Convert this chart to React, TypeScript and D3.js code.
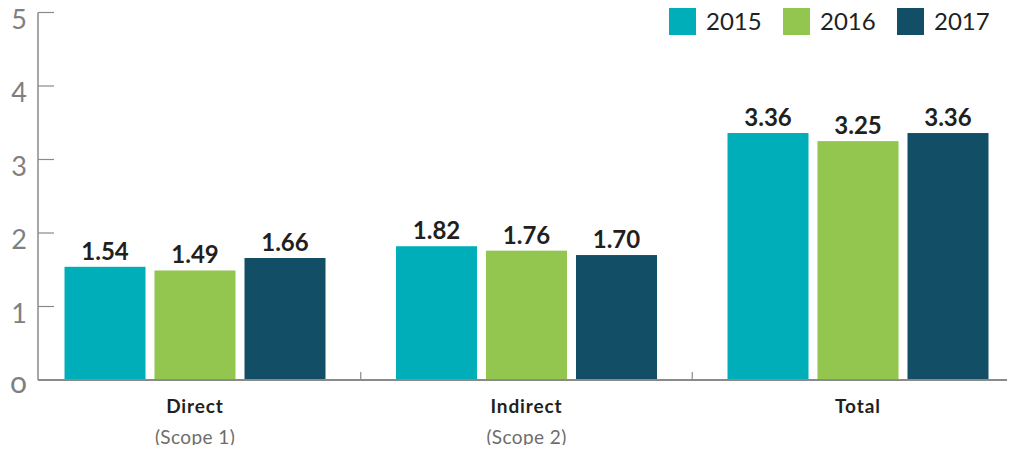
import { useEffect, useRef } from 'react';
import * as d3 from 'd3';

const categories = ['Direct', 'Indirect', 'Total'];
const subLabels = ['(Scope 1)', '(Scope 2)', ''];
const years = ['2015', '2016', '2017'];
const values2015 = [1.54, 1.82, 3.36];
const values2016 = [1.49, 1.76, 3.25];
const values2017 = [1.66, 1.70, 3.36];
const yTicks = [0, 1, 2, 3, 4, 5];
const colors = ['#00aeba', '#92c64e', '#124e66'];

const W = 1015;
const H = 453;

export default function App() {
  const svgRef = useRef<SVGSVGElement>(null);

  useEffect(() => {
    if (!svgRef.current) return;
    const svg = d3.select(svgRef.current);
    svg.selectAll('*').remove();

    const font = 'Lato, "Open Sans", sans-serif';
    const series = [values2015, values2016, values2017];

    const y = d3.scaleLinear().domain([0, 5]).range([380, 12.5]);
    const x0 = d3.scaleBand<string>().domain(categories).range([29.25, 1023.75]).paddingInner(0.2127).paddingOuter(0.10635);
    const x1 = d3.scaleBand<string>().domain(years).range([0, x0.bandwidth()]).paddingInner(0.1);

    // y axis
    svg.append('line')
      .attr('x1', 38).attr('x2', 38).attr('y1', y(5)).attr('y2', y(0))
      .attr('stroke', '#8a8a8a').attr('stroke-width', 1.5);
    svg.append('g').selectAll('line').data(yTicks.filter(d => d > 0)).enter().append('line')
      .attr('x1', 38).attr('x2', 54).attr('y1', d => y(d)).attr('y2', d => y(d))
      .attr('stroke', '#8a8a8a').attr('stroke-width', 1.2);
    svg.append('g').selectAll('text').data(yTicks).enter().append('text')
      .attr('x', 27).attr('y', d => y(d) + (d === 0 ? 13 : 16))
      .attr('text-anchor', 'end')
      .attr('font-family', font).attr('font-size', d => d === 0 ? 30 : 27)
      .attr('fill', '#7f7f7f')
      .text(d => d === 0 ? 'o' : String(d));

    // bars
    const g = svg.append('g');
    categories.forEach((c, ci) => {
      years.forEach((yr, yi) => {
        const v = series[yi][ci];
        const bx = (x0(c) as number) + (x1(yr) as number);
        g.append('rect')
          .attr('x', bx).attr('y', y(v))
          .attr('width', x1.bandwidth()).attr('height', y(0) - y(v))
          .attr('fill', colors[yi]);
        g.append('text')
          .attr('x', bx + x1.bandwidth() / 2).attr('y', y(v) - 7)
          .attr('text-anchor', 'middle')
          .attr('font-family', font).attr('font-weight', 700).attr('font-size', 24)
          .attr('fill', '#231f20')
          .text(v.toFixed(2));
      });
    });

    // baseline
    svg.append('line')
      .attr('x1', 38).attr('x2', W).attr('y1', y(0)).attr('y2', y(0))
      .attr('stroke', '#8a8a8a').attr('stroke-width', 2);

    // category separator ticks
    const seps = categories.slice(1).map(c => (x0(c) as number) - (x0.step() - x0.bandwidth()) / 2);
    svg.append('g').selectAll('line').data(seps).enter().append('line')
      .attr('x1', d => d).attr('x2', d => d).attr('y1', y(0) - 8).attr('y2', y(0))
      .attr('stroke', '#8a8a8a').attr('stroke-width', 1.2);

    // category labels
    categories.forEach((c, ci) => {
      const cx = (x0(c) as number) + x0.bandwidth() / 2;
      svg.append('text')
        .attr('x', cx).attr('y', 413)
        .attr('text-anchor', 'middle')
        .attr('font-family', font).attr('font-weight', 700).attr('font-size', 19)
        .attr('letter-spacing', 0.9)
        .attr('fill', '#231f20')
        .text(c);
      if (subLabels[ci]) {
        svg.append('text')
          .attr('x', cx).attr('y', 444)
          .attr('text-anchor', 'middle')
          .attr('font-family', font).attr('font-size', 19)
          .attr('letter-spacing', 0.4)
          .attr('fill', '#6d6d6d')
          .text(subLabels[ci]);
      }
    });

    // legend
    const legendX = [669, 783, 897];
    years.forEach((yr, i) => {
      svg.append('rect')
        .attr('x', legendX[i]).attr('y', 8).attr('width', 27).attr('height', 27)
        .attr('fill', colors[i]);
      svg.append('text')
        .attr('x', legendX[i] + 37).attr('y', 30)
        .attr('font-family', font).attr('font-size', 24)
        .attr('fill', '#231f20')
        .text(yr);
    });
  }, []);

  return (
    <div style={{ width: `${W}px`, height: `${H}px`, margin: -8 }}>
      <svg ref={svgRef} width={W} height={H} style={{ display: 'block' }}></svg>
    </div>
  );
}
